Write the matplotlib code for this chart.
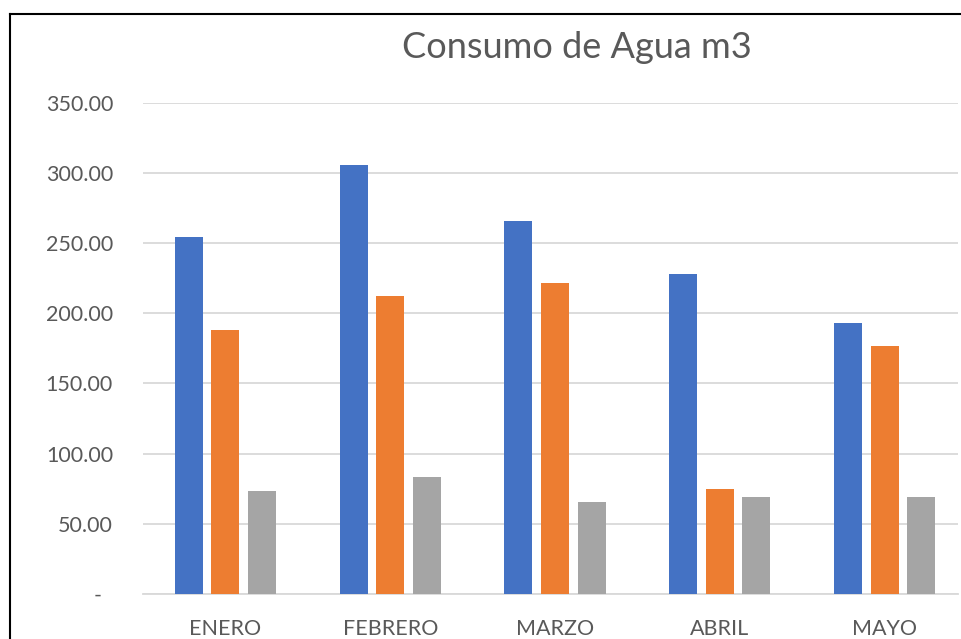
import matplotlib.pyplot as plt
import numpy as np
from matplotlib.lines import Line2D
from matplotlib.ticker import FuncFormatter

# Datos
meses = ["ENERO", "FEBRERO", "MARZO", "ABRIL", "MAYO"]
serie_1 = [254.0, 305.6, 265.7, 227.7, 192.8]
serie_2 = [188.0, 212.5, 221.8, 74.5, 176.6]
serie_3 = [73.6, 83.6, 65.8, 69.3, 69.3]
y_ticks = [0, 50, 100, 150, 200, 250, 300, 350]
titulo = "Consumo de Agua m3"

COLORS = ["#4472C4", "#ED7D31", "#A5A5A5"]
TEXT_COLOR = "#595959"
GRID_COLOR = "#D9D9D9"

W, H = 962, 639
DPI = 100

plt.rcParams['font.family'] = ['Lato', 'DejaVu Sans']

fig = plt.figure(figsize=(W / DPI, H / DPI), dpi=DPI)
fig.patch.set_facecolor("white")

# plot area in pixels: x 143..958, y 102.7 (350) .. 594 (0)
left, right = 143, 958
top, bottom = 102.7, 594
ax = fig.add_axes([left / W, 1 - bottom / H, (right - left) / W, (bottom - top) / H])

x = np.arange(len(meses))
width = 0.17
offset = 0.222
for i, (vals, col) in enumerate(zip([serie_1, serie_2, serie_3], COLORS)):
    ax.bar(x + (i - 1) * offset, vals, width=width, color=col, zorder=3)

ax.set_xlim(-0.5, 4.5 - 9 / 164.7)
ax.set_ylim(0, 350)
ax.set_yticks(y_ticks)
ax.yaxis.set_major_formatter(FuncFormatter(lambda v, p: "-  " if v == 0 else f"{v:.2f}"))
ax.set_xticks(x)
ax.set_xticklabels(meses)

ax.grid(axis="y", color=GRID_COLOR, linewidth=1.3, zorder=0)
for s in ["top", "right", "left"]:
    ax.spines[s].set_visible(False)
ax.spines["bottom"].set_color(GRID_COLOR)
ax.spines["bottom"].set_linewidth(1.3)
ax.tick_params(axis="both", length=0, colors=TEXT_COLOR, labelsize=15.5)
ax.tick_params(axis="y", pad=21.6)
ax.tick_params(axis="x", pad=18.0)

fig.text(577 / W, 1 - 48 / H, titulo, ha="center", va="center",
         fontsize=26, color=TEXT_COLOR)

# chart border (left and top visible in the crop)
fig.add_artist(Line2D([10 / W, 10 / W], [0, 1 - 14 / H], color="black", linewidth=1.5))
fig.add_artist(Line2D([10 / W, 1.0], [1 - 14 / H, 1 - 14 / H], color="black", linewidth=1.5))

fig.savefig("out.png", dpi=DPI)
